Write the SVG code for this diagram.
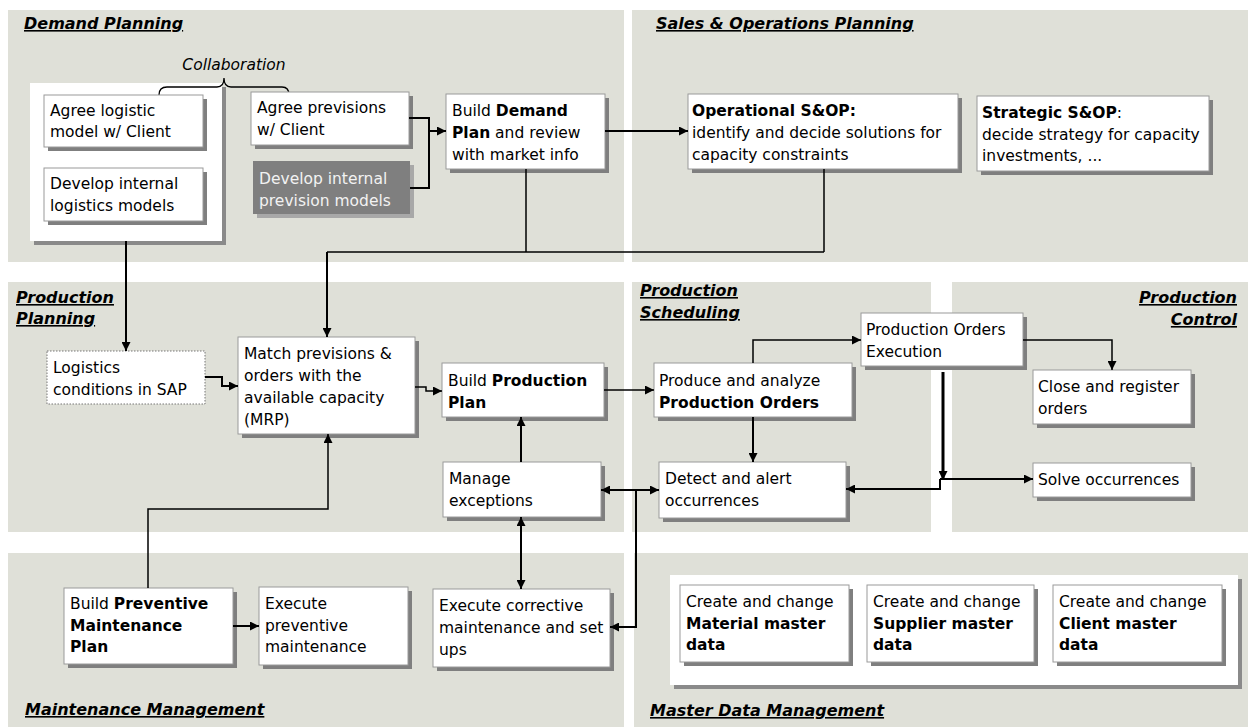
<svg xmlns="http://www.w3.org/2000/svg" width="1251" height="727" viewBox="0 0 1251 727">
<defs>
<style>
.pan{fill:#dfe0d8}
.box{fill:#fff;stroke:#9a9a9a;stroke-width:1}
.sh{fill:#7f7f7f}
.t{font-family:"DejaVu Sans",Verdana,sans-serif;font-size:15.5px;fill:#000}
.b{font-weight:bold}
.h{font-family:"DejaVu Sans",Verdana,sans-serif;font-size:16px;font-weight:bold;font-style:italic;text-decoration:underline;fill:#000}
.c{fill:none;stroke:#000;stroke-width:2}
.c1{fill:none;stroke:#000;stroke-width:1.5}
</style>
<marker id="a" viewBox="0 0 10 10" refX="10" refY="5" markerWidth="10" markerHeight="9" markerUnits="userSpaceOnUse" orient="auto-start-reverse">
<path d="M0,0 L10,5 L0,10 z" fill="#000"/>
</marker>
</defs>
<rect width="1251" height="727" fill="#fff"/>
<g id="panels">
<rect class="pan" x="8" y="10" width="616" height="252"/>
<rect class="pan" x="632" y="10" width="616" height="252"/>
<rect class="pan" x="8" y="282" width="616" height="250"/>
<rect class="pan" x="632" y="282" width="299" height="250"/>
<rect class="pan" x="952" y="282" width="296" height="250"/>
<rect class="pan" x="8" y="553" width="616" height="174"/>
<rect class="pan" x="634" y="553" width="614" height="174"/>
<text class="h" x="24" y="29">Demand Planning</text>
<text class="h" x="656" y="29">Sales &amp; Operations Planning</text>
<text class="h" x="16" y="303">Production</text>
<text class="h" x="16" y="324">Planning</text>
<text class="h" x="640" y="296">Production</text>
<text class="h" x="640" y="318">Scheduling</text>
<text class="h" x="1237" y="303" text-anchor="end">Production</text>
<text class="h" x="1237" y="325" text-anchor="end">Control</text>
<text class="h" x="25" y="715">Maintenance Management</text>
<text class="h" x="650" y="716">Master Data Management</text>
</g>
<g id="collab">
<rect x="34" y="87" width="192" height="158" fill="#8a8a8a"/>
<rect x="30" y="83" width="192" height="158" fill="#fff"/>
<path d="M159,95 Q159,87 167,87 L217,87 Q224,87 224,78 Q224,87 231,87 L282,87 Q289,87 289,95" fill="none" stroke="#000" stroke-width="1.3"/>
<text class="t" x="234" y="70" text-anchor="middle" font-style="italic" font-size="14">Collaboration</text>
</g>
<g id="n-agree-logistic">
<rect class="sh" x="48" y="99" width="159" height="52"/>
<rect class="box" x="44" y="95" width="159" height="52"/>
<text class="t" x="50" y="116">Agree logistic</text>
<text class="t" x="50" y="137">model w/ Client</text>
</g>
<g id="n-dev-logistics">
<rect class="sh" x="48" y="172" width="159" height="53"/>
<rect class="box" x="44" y="168" width="159" height="53"/>
<text class="t" x="50" y="189">Develop internal</text>
<text class="t" x="50" y="211">logistics models</text>
</g>
<g id="n-agree-previsions">
<rect class="sh" x="255" y="96" width="158" height="53"/>
<rect class="box" x="251" y="92" width="158" height="53"/>
<text class="t" x="257" y="113">Agree previsions</text>
<text class="t" x="257" y="135">w/ Client</text>
</g>
<g id="n-dev-prevision">
<rect x="257" y="165" width="157" height="53" fill="#a8a8a8"/>
<rect x="253" y="161" width="157" height="53" fill="#7f7f7f"/>
<text class="t" x="259" y="184" fill="#f2f2f2" style="fill:#f2f2f2">Develop internal</text>
<text class="t" x="259" y="206" style="fill:#f2f2f2">prevision models</text>
</g>
<g id="n-demand-plan">
<rect class="sh" x="450" y="98" width="159" height="75"/>
<rect class="box" x="446" y="94" width="159" height="75"/>
<text class="t" x="452" y="116">Build <tspan class="b">Demand</tspan></text>
<text class="t" x="452" y="138"><tspan class="b">Plan</tspan> and review</text>
<text class="t" x="452" y="160">with market info</text>
</g>
<g id="n-op-sop">
<rect class="sh" x="692" y="98" width="270" height="75"/>
<rect class="box" x="688" y="94" width="270" height="75"/>
<text class="t" x="692" y="116"><tspan class="b">Operational S&amp;OP:</tspan></text>
<text class="t" x="692" y="138">identify and decide solutions for</text>
<text class="t" x="692" y="160">capacity constraints</text>
</g>
<g id="n-str-sop">
<rect class="sh" x="981" y="100" width="232" height="75"/>
<rect class="box" x="977" y="96" width="232" height="75"/>
<text class="t" x="982" y="118"><tspan class="b">Strategic S&amp;OP</tspan>:</text>
<text class="t" x="982" y="140">decide strategy for capacity</text>
<text class="t" x="982" y="161">investments, ...</text>
</g>
<g id="n-logistics-sap">
<rect x="47" y="351" width="158" height="53" fill="#fff" stroke="#777" stroke-width="1" stroke-dasharray="1.5,1.5"/>
<text class="t" x="53" y="373">Logistics</text>
<text class="t" x="53" y="395">conditions in SAP</text>
</g>
<g id="n-match">
<rect class="sh" x="242" y="341" width="177" height="97"/>
<rect class="box" x="238" y="337" width="177" height="97"/>
<text class="t" x="244" y="359">Match previsions &amp;</text>
<text class="t" x="244" y="381">orders with the</text>
<text class="t" x="244" y="403">available capacity</text>
<text class="t" x="244" y="425">(MRP)</text>
</g>
<g id="n-prod-plan">
<rect class="sh" x="446" y="367" width="162" height="54"/>
<rect class="box" x="442" y="363" width="162" height="54"/>
<text class="t" x="448" y="386">Build <tspan class="b">Production</tspan></text>
<text class="t" x="448" y="408"><tspan class="b">Plan</tspan></text>
</g>
<g id="n-manage-exc">
<rect class="sh" x="447" y="466" width="158" height="55"/>
<rect class="box" x="443" y="462" width="158" height="55"/>
<text class="t" x="449" y="484">Manage</text>
<text class="t" x="449" y="506">exceptions</text>
</g>
<g id="n-prod-orders">
<rect class="sh" x="658" y="367" width="198" height="54"/>
<rect class="box" x="654" y="363" width="198" height="54"/>
<text class="t" x="659" y="386">Produce and analyze</text>
<text class="t" x="659" y="408"><tspan class="b">Production Orders</tspan></text>
</g>
<g id="n-detect">
<rect class="sh" x="663" y="466" width="187" height="56"/>
<rect class="box" x="659" y="462" width="187" height="56"/>
<text class="t" x="665" y="484">Detect and alert</text>
<text class="t" x="665" y="506">occurrences</text>
</g>
<g id="n-execution">
<rect class="sh" x="865" y="317" width="162" height="53"/>
<rect class="box" x="861" y="313" width="162" height="53"/>
<text class="t" x="866" y="335">Production Orders</text>
<text class="t" x="866" y="357">Execution</text>
</g>
<g id="n-close">
<rect class="sh" x="1037" y="374" width="158" height="54"/>
<rect class="box" x="1033" y="370" width="158" height="54"/>
<text class="t" x="1038" y="392">Close and register</text>
<text class="t" x="1038" y="414">orders</text>
</g>
<g id="n-solve">
<rect class="sh" x="1037" y="467" width="158" height="34"/>
<rect class="box" x="1033" y="463" width="158" height="34"/>
<text class="t" x="1038" y="485">Solve occurrences</text>
</g>
<g id="n-prev-plan">
<rect class="sh" x="68" y="592" width="169" height="76"/>
<rect class="box" x="64" y="588" width="169" height="76"/>
<text class="t" x="70" y="609">Build <tspan class="b">Preventive</tspan></text>
<text class="t" x="70" y="631"><tspan class="b">Maintenance</tspan></text>
<text class="t" x="70" y="652"><tspan class="b">Plan</tspan></text>
</g>
<g id="n-exec-prev">
<rect class="sh" x="263" y="591" width="149" height="78"/>
<rect class="box" x="259" y="587" width="149" height="78"/>
<text class="t" x="265" y="609">Execute</text>
<text class="t" x="265" y="631">preventive</text>
<text class="t" x="265" y="652">maintenance</text>
</g>
<g id="n-exec-corr">
<rect class="sh" x="437" y="593" width="177" height="78"/>
<rect class="box" x="433" y="589" width="177" height="78"/>
<text class="t" x="439" y="611">Execute corrective</text>
<text class="t" x="439" y="633">maintenance and set</text>
<text class="t" x="439" y="655">ups</text>
</g>
<g id="master">
<rect x="674" y="579" width="568" height="110" fill="#8a8a8a"/>
<rect x="670" y="575" width="568" height="110" fill="#fff"/>
</g>
<g id="n-material">
<rect class="sh" x="684" y="589" width="169" height="77"/>
<rect class="box" x="680" y="585" width="169" height="77"/>
<text class="t" x="686" y="607">Create and change</text>
<text class="t" x="686" y="629"><tspan class="b">Material master</tspan></text>
<text class="t" x="686" y="650"><tspan class="b">data</tspan></text>
</g>
<g id="n-supplier">
<rect class="sh" x="871" y="589" width="167" height="77"/>
<rect class="box" x="867" y="585" width="167" height="77"/>
<text class="t" x="873" y="607">Create and change</text>
<text class="t" x="873" y="629"><tspan class="b">Supplier master</tspan></text>
<text class="t" x="873" y="650"><tspan class="b">data</tspan></text>
</g>
<g id="n-client">
<rect class="sh" x="1057" y="589" width="169" height="77"/>
<rect class="box" x="1053" y="585" width="169" height="77"/>
<text class="t" x="1059" y="607">Create and change</text>
<text class="t" x="1059" y="629"><tspan class="b">Client master</tspan></text>
<text class="t" x="1059" y="650"><tspan class="b">data</tspan></text>
</g>
<g id="connectors">
<path class="c" d="M409,118 H429 V188 H410"/>
<path class="c" d="M429,131 H446" marker-end="url(#a)"/>
<path class="c" d="M605,131 H688" marker-end="url(#a)"/>
<path class="c1" d="M526,169 V252 M824,169 V252 M327,252 H824"/>
<path class="c" d="M327,252 V337" marker-end="url(#a)"/>
<path class="c" d="M126,241 V351" marker-end="url(#a)"/>
<path class="c" d="M205,377 H222 V386 H238" marker-end="url(#a)"/>
<path class="c1" d="M415,387 H426 V391 H442" marker-end="url(#a)"/>
<path class="c1" d="M604,390 H654" marker-end="url(#a)"/>
<path class="c" d="M521,462 V417" marker-end="url(#a)"/>
<path class="c" d="M601,490 H659" marker-start="url(#a)" marker-end="url(#a)"/>
<path class="c" d="M636,490 V627 H610" marker-end="url(#a)"/>
<path class="c" d="M521,517 V589" marker-start="url(#a)" marker-end="url(#a)"/>
<path class="c1" d="M148,588 V509 H328 V434" marker-end="url(#a)"/>
<path class="c" d="M233,626 H259" marker-end="url(#a)"/>
<path class="c" d="M753,417 V462" marker-end="url(#a)"/>
<path class="c1" d="M753,363 V340 H861" marker-end="url(#a)"/>
<path class="c1" d="M1023,340 H1112 V370" marker-end="url(#a)"/>
<path d="M943,372 V480" fill="none" stroke="#000" stroke-width="3" marker-end="url(#a)"/>
<path class="c" d="M940,479 H1033" marker-end="url(#a)"/>
<path class="c" d="M940,479 V489 H846" marker-end="url(#a)"/>
</g>
</svg>
